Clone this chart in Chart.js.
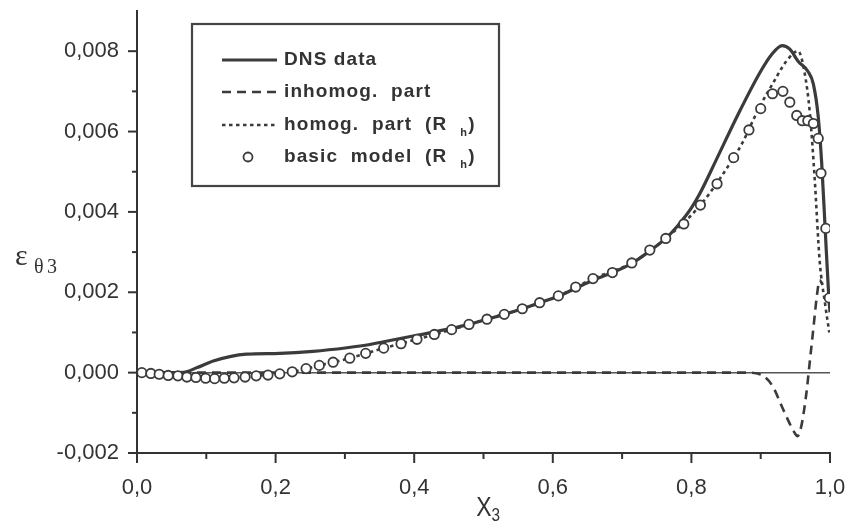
<!DOCTYPE html>
<html><head><meta charset="utf-8">
<script src="https://cdn.jsdelivr.net/npm/chart.js@4.4.0/dist/chart.umd.min.js"></script>
<style>html,body{margin:0;padding:0;background:#fff;}</style>
</head><body>
<canvas id="c" width="845" height="521"></canvas>
<script>
// ---- data ----
const legendLabels = ["DNS data", "inhomog.  part", "homog.  part  (R", "basic  model  (R"];
const xTickLabels = ["0,0","0,2","0,4","0,6","0,8","1,0"];
const yTickLabels = ["-0,002","0,000","0,002","0,004","0,006","0,008"];

const dnsX = [0, 0.03, 0.067, 0.086, 0.11, 0.134, 0.158, 0.206, 0.254, 0.303, 0.336, 0.356, 0.404, 0.454, 0.479, 0.505, 0.530, 0.556, 0.581, 0.608, 0.633, 0.658, 0.686, 0.714, 0.740, 0.763, 0.780, 0.800, 0.812, 0.836, 0.868, 0.900, 0.915, 0.931, 0.942, 0.954, 0.968, 0.976, 0.983, 0.988, 0.993, 0.998, 1.0];
const dnsY = [0, 0, 0.00001, 0.00012, 0.00029, 0.0004, 0.00046, 0.00048, 0.00053, 0.00062, 0.0007, 0.00077, 0.00093, 0.0011, 0.0012, 0.00133, 0.00145, 0.00159, 0.00174, 0.0019, 0.0021, 0.0023, 0.00249, 0.00272, 0.00303, 0.00334, 0.00365, 0.0041, 0.00445, 0.0053, 0.00645, 0.0075, 0.0079, 0.00814, 0.00805, 0.00775, 0.0075, 0.00718, 0.00637, 0.00522, 0.00359, 0.00196, 0.0015];

const inhX = [0, 0.1, 0.2, 0.3, 0.4, 0.5, 0.6, 0.7, 0.8, 0.88, 0.9, 0.917, 0.932, 0.949, 0.953, 0.959, 0.966, 0.971, 0.976, 0.981, 0.985, 0.989];
const inhY = [0, 0, 0, 0, 0, 0, 0, 0, 0, 0, -0.00005, -0.00033, -0.0009, -0.0015, -0.00158, -0.0013, -0.0005, 0.0003, 0.0011, 0.0019, 0.0023, 0.0022];

const homX = [0.007, 0.045, 0.085, 0.126, 0.172, 0.224, 0.263, 0.307, 0.356, 0.404, 0.454, 0.505, 0.556, 0.608, 0.658, 0.714, 0.763, 0.813, 0.861, 0.873, 0.898, 0.917, 0.937, 0.954, 0.963, 0.971, 0.978, 0.985, 0.993, 0.999];
const homY = [0, -0.00007, -0.00012, -0.00014, -0.00008, 0.00002, 0.00018, 0.00036, 0.00061, 0.00083, 0.00107, 0.00133, 0.00159, 0.00191, 0.00234, 0.00273, 0.00334, 0.00417, 0.00535, 0.0057, 0.0066, 0.00718, 0.00775, 0.0080, 0.0075, 0.00645, 0.0048, 0.0028, 0.0017, 0.001];

const modX = [0.007, 0.020, 0.032, 0.045, 0.059, 0.072, 0.085, 0.099, 0.112, 0.126, 0.140, 0.156, 0.172, 0.189, 0.206, 0.224, 0.244, 0.263, 0.283, 0.307, 0.330, 0.356, 0.381, 0.404, 0.429, 0.454, 0.479, 0.505, 0.530, 0.556, 0.581, 0.608, 0.633, 0.658, 0.686, 0.714, 0.740, 0.763, 0.789, 0.813, 0.837, 0.861, 0.883, 0.900, 0.917, 0.932, 0.942, 0.952, 0.960, 0.968, 0.976, 0.983, 0.987, 0.994, 0.999];
const modY = [0, -0.00002, -0.00004, -0.00007, -0.00008, -0.00011, -0.00012, -0.00014, -0.00015, -0.00014, -0.00013, -0.00011, -0.00008, -0.00006, -0.00003, 0.00002, 0.0001, 0.00018, 0.00026, 0.00036, 0.00048, 0.00061, 0.00072, 0.00083, 0.00095, 0.00107, 0.0012, 0.00133, 0.00145, 0.00159, 0.00174, 0.00191, 0.00213, 0.00234, 0.00249, 0.00273, 0.00305, 0.00334, 0.0037, 0.00417, 0.0047, 0.00535, 0.00604, 0.00657, 0.00694, 0.0070, 0.00673, 0.0064, 0.00627, 0.00627, 0.0062, 0.00583, 0.00496, 0.00359, 0.00186];

const pts = (xs, ys) => xs.map((x, i) => ({x, y: ys[i]}));
const INK = '#3b3b3b';

const axisTicks = {
  id: 'axisTicks',
  afterDraw(chart) {
    const {ctx, chartArea: a, scales: {x, y}} = chart;
    ctx.save();
    ctx.strokeStyle = '#333'; ctx.lineWidth = 2;
    y.ticks.forEach(t => {
      const k = Math.round(t.value * 1000);
      if (k > 8) return;
      const p = y.getPixelForValue(t.value);
      const len = (k % 2 === 0) ? 9 : 5;
      ctx.beginPath(); ctx.moveTo(a.left - len, p); ctx.lineTo(a.left, p); ctx.stroke();
    });
    x.ticks.forEach(t => {
      const k = Math.round(t.value * 10);
      const p = x.getPixelForValue(t.value);
      const len = (k % 2 === 0) ? 10 : 6;
      ctx.beginPath(); ctx.moveTo(p, a.bottom); ctx.lineTo(p, a.bottom + len); ctx.stroke();
    });
    ctx.restore();
  }
};

const titles = {
  id: 'titles',
  afterDraw(chart) {
    const {ctx, chartArea: a} = chart;
    ctx.save();
    ctx.fillStyle = '#333';
    ctx.textBaseline = 'alphabetic';
    // x title
    const cx = (a.left + a.right) / 2;
    ctx.font = '28px "Liberation Sans", Arial, sans-serif';
    ctx.textAlign = 'right';
    ctx.save(); ctx.translate(cx + 8, 516); ctx.scale(0.82, 1); ctx.fillText('X', 0, 0); ctx.restore();
    ctx.textAlign = 'left';
    ctx.font = '18px "Liberation Sans", Arial, sans-serif';
    ctx.save(); ctx.translate(cx + 8, 521); ctx.scale(0.85, 1); ctx.fillText('3', 0, 0); ctx.restore();
    // y title
    ctx.font = '30px "Liberation Serif", "DejaVu Serif", serif';
    ctx.fillText('\u03B5', 15, 265);
    ctx.font = '20px "Liberation Serif", "DejaVu Serif", serif';
    ctx.fillText('\u03B8', 34, 273);
    ctx.fillText('3', 47, 273);
    ctx.restore();
  }
};

const legendBox = {
  id: 'legendBox',
  afterDraw(chart) {
    const {ctx} = chart;
    const ds = chart.data.datasets;
    ctx.save();
    ctx.strokeStyle = '#444'; ctx.lineWidth = 2.2;
    ctx.strokeRect(192, 24, 307, 162);
    const rows = [60, 92, 125, 157];
    const order = [1, 2, 3, 0];
    rows.forEach((ry, i) => {
      const d = ds[order[i]];
      if (d.showLine === false) {
        ctx.beginPath(); ctx.arc(248, ry, 4.5, 0, Math.PI * 2);
        ctx.fillStyle = '#fff'; ctx.fill();
        ctx.lineWidth = d.pointBorderWidth; ctx.strokeStyle = d.pointBorderColor; ctx.setLineDash([]); ctx.stroke();
      } else {
        ctx.beginPath(); ctx.setLineDash(d.borderDash || []);
        ctx.lineWidth = d.borderWidth; ctx.strokeStyle = d.borderColor;
        ctx.moveTo(222, ry); ctx.lineTo(277, ry); ctx.stroke();
        ctx.setLineDash([]);
      }
      ctx.fillStyle = '#333';
      ctx.font = 'bold 19px "Liberation Sans", Arial, sans-serif';
      ctx.letterSpacing = '1.1px';
      ctx.textAlign = 'left'; ctx.textBaseline = 'middle';
      const label = legendLabels[i];
      ctx.fillText(label, 284, ry);
      if (i >= 2) {
        const w = ctx.measureText(label).width;
        ctx.font = 'bold 11px "Liberation Sans", Arial, sans-serif';
        ctx.fillText('h', 284 + w + 13, ry + 8);
        ctx.font = 'bold 19px "Liberation Sans", Arial, sans-serif';
        ctx.fillText(')', 284 + w + 21, ry);
      }
    });
    ctx.restore();
  }
};

new Chart(document.getElementById('c'), {
  type: 'scatter',
  data: {
    datasets: [
      { label: 'basic model', data: pts(modX, modY), showLine: false, pointRadius: 4.7, pointBorderWidth: 1.8,
        pointBackgroundColor: '#fff', pointBorderColor: INK, borderColor: INK },
      { label: 'DNS data', data: pts(dnsX, dnsY), showLine: true, borderColor: INK, borderWidth: 3.2,
        pointRadius: 0, cubicInterpolationMode: 'monotone' },
      { label: 'inhomog. part', data: pts(inhX, inhY), showLine: true, borderColor: INK, borderWidth: 2.6,
        borderDash: [9, 6], pointRadius: 0, cubicInterpolationMode: 'monotone' },
      { label: 'homog. part', data: pts(homX, homY), showLine: true, borderColor: INK, borderWidth: 2.6,
        borderDash: [3.5, 3.5], pointRadius: 0, cubicInterpolationMode: 'monotone' }
    ]
  },
  options: {
    responsive: false, animation: false,
    layout: { padding: { left: 0, right: 15, top: 11, bottom: 0 } },
    plugins: { legend: { display: false }, tooltip: { enabled: false } },
    scales: {
      x: {
        type: 'linear', min: 0, max: 1,
        afterFit: s => { s.height = 68; s.paddingLeft = 0; s.paddingRight = 0; },
        border: { display: true, color: '#333', width: 2 },
        grid: { display: false, drawTicks: false },
        ticks: {
          stepSize: 0.1, padding: 22, color: '#333', autoSkip: false, maxRotation: 0,
          font: { family: '"Liberation Sans", Arial, sans-serif', size: 22 },
          callback: v => { const k = Math.round(v * 10); return k % 2 === 0 ? xTickLabels[k / 2] : ''; }
        }
      },
      y: {
        type: 'linear', min: -0.002, max: 0.009,
        afterFit: s => { s.width = 137; s.paddingTop = 0; s.paddingBottom = 0; },
        border: { display: true, color: '#333', width: 2 },
        grid: {
          drawTicks: false, lineWidth: 1.6,
          color: c => (c.tick && Math.abs(c.tick.value) < 1e-9) ? '#555' : 'rgba(0,0,0,0)'
        },
        ticks: {
          stepSize: 0.001, padding: 18, color: '#333', autoSkip: false,
          font: { family: '"Liberation Sans", Arial, sans-serif', size: 22 },
          callback: v => { const k = Math.round(v * 1000); return (k % 2 === 0 && k <= 8) ? yTickLabels[(k + 2) / 2] : ''; }
        }
      }
    }
  },
  plugins: [axisTicks, titles, legendBox]
});
</script>
</body></html>
